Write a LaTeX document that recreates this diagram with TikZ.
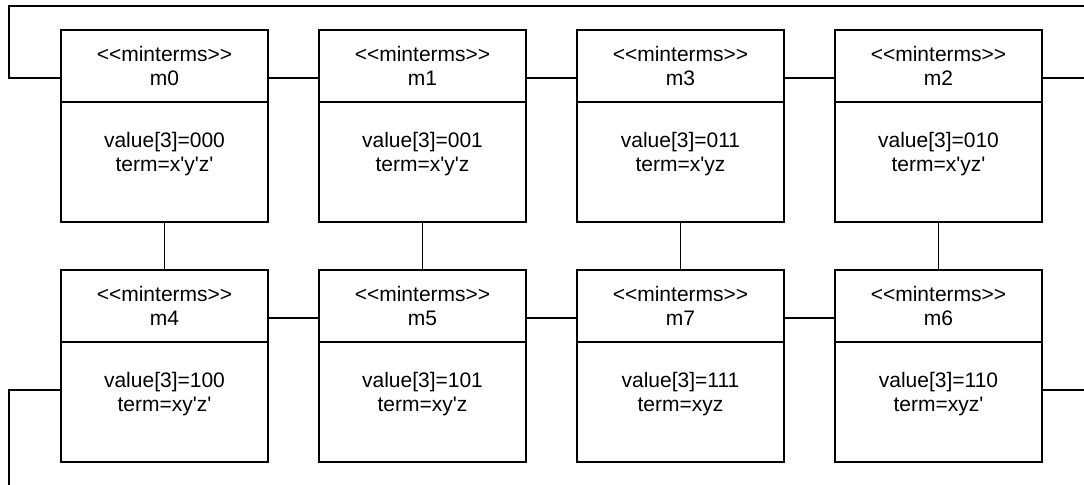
\documentclass[tikz,border=0pt]{standalone}
\usepackage{fontspec}
\setmainfont{Liberation Sans}[Ligatures=TeXOff]
\usetikzlibrary{positioning}

\begin{document}
\begin{tikzpicture}[
  node distance=24pt and 25.5pt,
  head/.style={draw,line width=0.7pt,minimum width=103.5pt,minimum height=36pt,
               inner sep=0pt,outer sep=0pt,align=center,
               font=\fontsize{10.5pt}{12pt}\selectfont},
  body/.style={head,minimum height=60pt,below=0pt of #1,
               execute at end node={\rule[-10pt]{0pt}{10pt}}},
  link/.style={line width=0.7pt}
]
\useasboundingbox (0,0) rectangle (542pt,-242.5pt);
% upper row: m0 m1 m3 m2
\node[head,anchor=north west] (m0) at (30.5pt,-15pt) {<<minterms>>\\m0};
\node[body=m0] (m0body) {value[3]=000\\term=x'y'z'};
\node[head,right=of m0] (m1) {<<minterms>>\\m1};
\node[body=m1] (m1body) {value[3]=001\\term=x'y'z};
\node[head,right=of m1] (m3) {<<minterms>>\\m3};
\node[body=m3] (m3body) {value[3]=011\\term=x'yz};
\node[head,right=of m3] (m2) {<<minterms>>\\m2};
\node[body=m2] (m2body) {value[3]=010\\term=x'yz'};
% lower row: m4 m5 m7 m6
\node[head,below=of m0body] (m4) {<<minterms>>\\m4};
\node[body=m4] (m4body) {value[3]=100\\term=xy'z'};
\node[head,right=of m4] (m5) {<<minterms>>\\m5};
\node[body=m5] (m5body) {value[3]=101\\term=xy'z};
\node[head,right=of m5] (m7) {<<minterms>>\\m7};
\node[body=m7] (m7body) {value[3]=111\\term=xyz};
\node[head,right=of m7] (m6) {<<minterms>>\\m6};
\node[body=m6] (m6body) {value[3]=110\\term=xyz'};
% ends of the wrap-around links
\coordinate (wrapNW) at (4.5pt,-3pt);
\coordinate (wrapSW) at (4.5pt,-242.5pt);
\coordinate (wrapE) at (542pt,0pt);
% neighbours in a row
\draw[link] ([yshift=-6pt]m0.east) -- ([yshift=-6pt]m1.west);
\draw[link] ([yshift=-6pt]m1.east) -- ([yshift=-6pt]m3.west);
\draw[link] ([yshift=-6pt]m3.east) -- ([yshift=-6pt]m2.west);
\draw[link] ([yshift=-6pt]m4.east) -- ([yshift=-6pt]m5.west);
\draw[link] ([yshift=-6pt]m5.east) -- ([yshift=-6pt]m7.west);
\draw[link] ([yshift=-6pt]m7.east) -- ([yshift=-6pt]m6.west);
% neighbours in a column
\draw[link] (m0body) -- (m4);
\draw[link] (m1body) -- (m5);
\draw[link] (m3body) -- (m7);
\draw[link] (m2body) -- (m6);
% wrap-around
\draw[link] ([yshift=-6pt]m0.west) -| (wrapNW) -- (wrapNW -| wrapE);
\draw[link] ([yshift=-6pt]m2.east) -- ([yshift=-6pt]m2.east -| wrapE);
\draw[link] ([yshift=6pt]m4body.west) -| (wrapSW);
\draw[link] ([yshift=6pt]m6body.east) -- ([yshift=6pt]m6body.east -| wrapE);
\end{tikzpicture}
\end{document}
